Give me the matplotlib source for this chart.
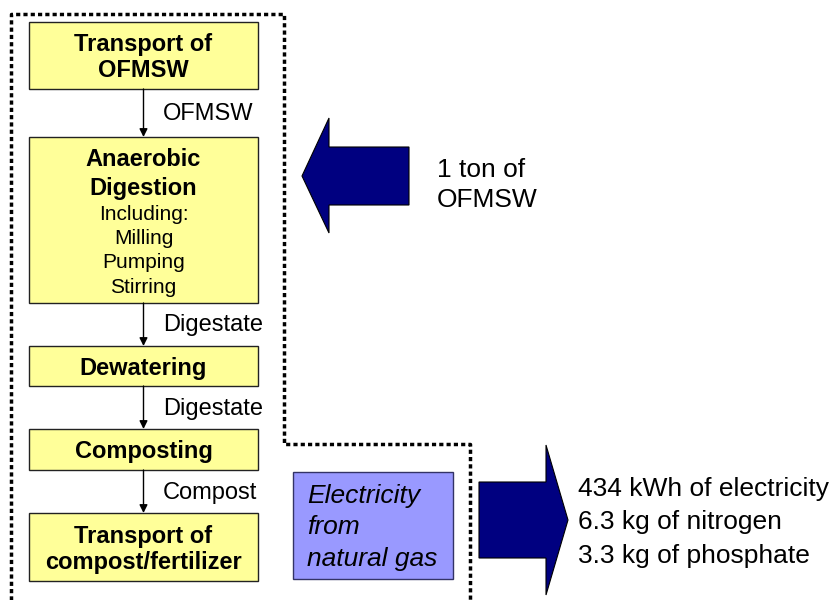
import matplotlib.pyplot as plt
from matplotlib.patches import Rectangle, Polygon

plt.rcParams['font.family'] = ['Liberation Sans', 'DejaVu Sans']

# process boxes: (title, subtitle lines, top, bottom) in pixel units
box_titles = ["Transport of\nOFMSW", "Anaerobic\nDigestion", "Dewatering",
              "Composting", "Transport of\ncompost/fertilizer"]
box_subs = ["", "Including:\nMilling\nPumping\nStirring", "", "", ""]
box_top = [22, 137, 346, 429, 513]
box_bot = [89, 303, 386, 470, 581]
flow_labels = ["OFMSW", "Digestate", "Digestate", "Compost"]

input_text = "1 ton of\nOFMSW"
output_lines = ["434 kWh of electricity", "6.3 kg of nitrogen", "3.3 kg of phosphate"]
credit_text = "Electricity\nfrom\nnatural gas"

# system boundary path
bound_x = [11, 11, 284, 284, 470, 470]
bound_y = [600, 14, 14, 444, 444, 600]

fig = plt.figure(figsize=(8.34, 6.0), dpi=100)
ax = fig.add_axes([0, 0, 1, 1])
ax.set_xlim(0, 834)
ax.set_ylim(600, 0)
ax.axis('off')

x0, x1 = 29, 258
xc = (x0 + x1) / 2


def stack(x, y_first, text, step, **kw):
    for j, ln in enumerate(text.split("\n")):
        ax.text(x, y_first + step * j, ln, va='center', **kw)


for i in range(len(box_titles)):
    t, b = box_top[i], box_bot[i]
    ax.add_patch(Rectangle((x0, t), x1 - x0, b - t, facecolor='#FFFF99',
                           edgecolor='#222222', lw=1, zorder=2))
    n = len(box_titles[i].split("\n"))
    if box_subs[i]:
        stack(xc, t + 23, box_titles[i], 28, ha='center', fontsize=17,
              fontweight='bold', zorder=3)
        stack(xc, t + 77, box_subs[i], 24.5, ha='center', fontsize=15,
              zorder=3)
    else:
        yc = (t + b) / 2 + 2 - 26 * (n - 1) / 2
        stack(xc, yc, box_titles[i], 26, ha='center', fontsize=17,
              fontweight='bold', zorder=3)

for i, lab in enumerate(flow_labels):
    ax.annotate("", xy=(xc, box_top[i + 1]), xytext=(xc, box_bot[i]),
                arrowprops=dict(arrowstyle='-|>', color='black', lw=1,
                                mutation_scale=12, shrinkA=0, shrinkB=0))
    ax.text(163, (box_bot[i] + box_top[i + 1]) / 2 + 1, lab, ha='left',
            va='center', fontsize=17)

# system boundary
ax.plot(bound_x, bound_y, color='black', lw=2.5, linestyle=(0, (1.2, 0.9)),
        dash_capstyle='butt', solid_joinstyle='miter')

# input arrow (pointing left)
ax.add_patch(Polygon([(302, 176), (329, 118), (329, 147), (409, 147),
                      (409, 205), (329, 205), (329, 233)], closed=True,
                     facecolor='#000080', edgecolor='black', lw=0.8))
stack(437, 170, input_text, 30, ha='left', fontsize=19)

# avoided product box
ax.add_patch(Rectangle((293, 472), 160, 107, facecolor='#9999FF',
                       edgecolor='#333366', lw=1))
stack(307, 496, credit_text, 31.5, ha='left', fontsize=19, style='italic')

# output arrow (pointing right)
ax.add_patch(Polygon([(479, 482), (546, 482), (546, 445), (568, 520),
                      (546, 595), (546, 558), (479, 558)], closed=True,
                     facecolor='#000080', edgecolor='black', lw=0.8))
stack(578, 489, "\n".join(output_lines), 33.5, ha='left', fontsize=19)

fig.savefig('out.png', dpi=100)
